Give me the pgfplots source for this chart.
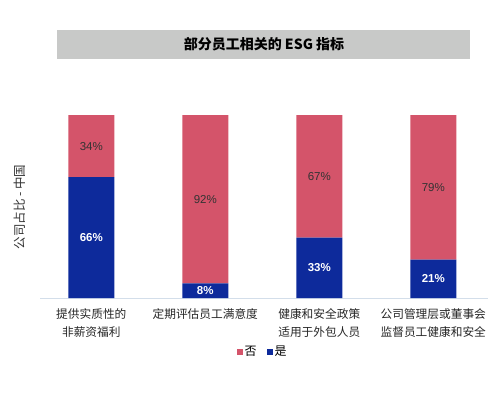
\documentclass[border=0pt]{standalone}
\usepackage{fontspec}
\usepackage{pgfplots}
\pgfplotsset{compat=1.18}
\setmainfont{Noto Sans CJK SC}
\newfontfamily\numfont{Liberation Sans}
\definecolor{nored}{HTML}{D4546A}
\definecolor{yesblue}{HTML}{0D2A9B}
\definecolor{banner}{HTML}{C8C9C8}
\definecolor{baseline}{HTML}{D3DEEA}
\tikzset{wl/.style={font=\numfont\bfseries\fontsize{11.5bp}{13bp}\selectfont, text=white},
         dl/.style={font=\numfont\fontsize{11.5bp}{13bp}\selectfont, text=black!80}}
\begin{document}
\begin{tikzpicture}[x=1bp,y=1bp]
\path[use as bounding box] (0,0) rectangle (500,392);
% title banner
\fill[banner] (57,333) rectangle (470,362);
\node[font=\fontsize{14bp}{16bp}\selectfont\bfseries] at (264,347.5) {部分员工相关的 ESG 指标};
% y label
\node[rotate=90, font=\fontsize{12.5bp}{14bp}\selectfont, text=black!80] at (20,185) {公司占比 - 中国};
\begin{axis}[
  at={(40bp,94bp)}, anchor=south west,
  scale only axis, width=448bp, height=183bp,
  ybar stacked, bar width=46bp,
  xmin=-0.45, xmax=3.48, ymin=0, ymax=100,
  axis x line=bottom, axis y line=none,
  x axis line style={draw=baseline, line width=0.8bp, -},
  xtick=data,
  major tick length=0pt,
  xticklabels={{提供实质性的\\非薪资福利},{定期评估员工满意度},{健康和安全政策\\适用于外包人员},{公司管理层或董事会\\监督员工健康和安全}},
  xticklabel style={align=center, font=\fontsize{11.7bp}{18bp}\selectfont, text=black!85, yshift=-7bp},
  ytick=\empty,
  clip=false,
]
\addplot[draw=none, fill=yesblue] coordinates {(0,66) (1,8) (2,33) (3,21)};
\addplot[draw=none, fill=nored] coordinates {(0,34) (1,92) (2,67) (3,79)};
\coordinate (b0) at (axis cs:0,33);
\coordinate (b1) at (axis cs:1,4);
\coordinate (b2) at (axis cs:2,16.5);
\coordinate (b3) at (axis cs:3,10.5);
\coordinate (r0) at (axis cs:0,83);
\coordinate (r1) at (axis cs:1,54);
\coordinate (r2) at (axis cs:2,66.5);
\coordinate (r3) at (axis cs:3,60.5);
\end{axis}
\node[wl] at (b0) {66\%};
\node[wl] at (b1) {8\%};
\node[wl] at (b2) {33\%};
\node[wl] at (b3) {21\%};
\node[dl] at (r0) {34\%};
\node[dl] at (r1) {92\%};
\node[dl] at (r2) {67\%};
\node[dl] at (r3) {79\%};
% legend
\fill[nored] (236.5,37.5) rectangle (242.5,43.5);
\node[anchor=west, font=\fontsize{12bp}{13bp}\selectfont, inner sep=0pt] at (244.5,40.5) {否};
\fill[yesblue] (266.5,37.5) rectangle (272.5,43.5);
\node[anchor=west, font=\fontsize{12bp}{13bp}\selectfont, inner sep=0pt] at (274.5,40.5) {是};
\end{tikzpicture}
\end{document}
